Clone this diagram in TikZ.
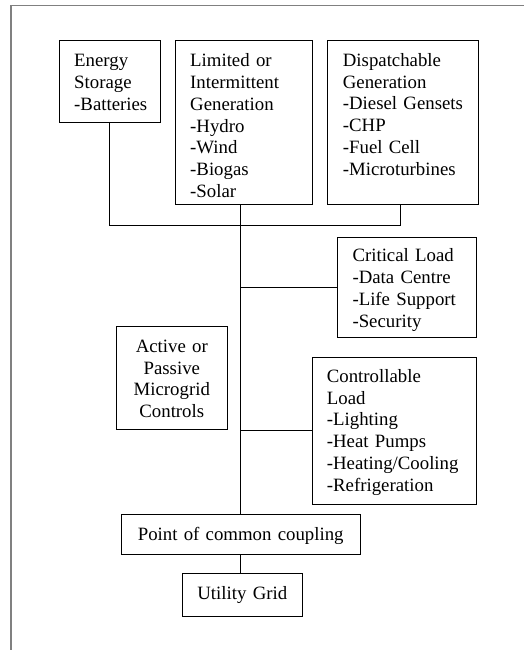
\documentclass[tikz,border=0pt]{standalone}
\usepackage{fontspec}
\setmainfont{Liberation Serif}
\usetikzlibrary{calc}
\begin{document}
\begin{tikzpicture}[x=1pt,y=-1pt,
  boxnode/.style={draw=black,line width=0.9pt,inner sep=0pt,outer sep=0pt,anchor=north west},
  ltxt/.style={inner sep=0pt,anchor=base west,text width=170pt,align=left,font=\fontsize{18.8}{21.8}\selectfont},
  ctxt/.style={inner sep=0pt,anchor=base,text width=#1,align=center,font=\fontsize{18.8}{21.8}\selectfont},
  wire/.style={draw=black,line width=0.9pt},
  frame/.style={draw=black!50,line width=1.6pt}]
\useasboundingbox (0,0) rectangle (523,650);
% frame of the figure
\draw[frame] (11,651) -- (11,5.7) -- (524,5.7);
% boxes
\node[boxnode,minimum width=101pt,minimum height=81.7pt] (es) at (59.3,40.3) {};
\node[boxnode,minimum width=137.4pt,minimum height=164.4pt] (lim) at (175.3,40.3) {};
\node[boxnode,minimum width=150.3pt,minimum height=164.4pt] (dg) at (327.7,40.3) {};
\node[boxnode,minimum width=138.7pt,minimum height=100.3pt] (cl) at (337.3,237) {};
\node[boxnode,minimum width=111.7pt,minimum height=103pt] (ap) at (116,326.7) {};
\node[boxnode,minimum width=163.7pt,minimum height=147pt] (ctl) at (312.3,357.3) {};
\node[boxnode,minimum width=238.7pt,minimum height=40.3pt] (pcc) at (121.3,514) {};
\node[boxnode,minimum width=120pt,minimum height=42.3pt] (ug) at (182.3,573.7) {};
% texts
\node[ltxt] (es-t) at (74,66.7) {Energy\\Storage\\-Batteries};
\node[ltxt] (lim-t) at (190,66.7) {Limited or\\Intermittent\\Generation\\-Hydro\\-Wind\\-Biogas\\-Solar};
\node[ltxt] (dg-t) at (342.7,66.4) {Dispatchable\\Generation\\-Diesel Gensets\\-CHP\\-Fuel Cell\\-Microturbines};
\node[ltxt] (cl-t) at (352.3,261.7) {Critical Load\\-Data Centre\\-Life Support\\-Security};
\node[ctxt=110pt] (ap-t) at (171.8,352.3) {Active or\\Passive\\Microgrid\\Controls};
\node[ltxt] (ctl-t) at (326.7,382.3) {Controllable\\Load\\-Lighting\\-Heat Pumps\\-Heating/Cooling\\-Refrigeration};
\node[ctxt=236pt] (pcc-t) at (240.7,540) {Point of common coupling};
\node[ctxt=118pt] (ug-t) at (242.3,599.3) {Utility Grid};
% connectors
\coordinate (bus) at (241,225.3);
\coordinate (dgdrop) at ($(dg.south)+(-2.8,0)$);
\draw[wire] (es.south) -- (es.south |- bus) -- (dgdrop |- bus) -- (dgdrop);
\draw[wire] (lim.south -| pcc.north) -- (pcc.north);
\draw[wire] (cl.west) -- (cl.west -| pcc.north);
\draw[wire] (ctl.west) -- (ctl.west -| pcc.north);
\draw[wire] (pcc.south) -- (pcc.south |- ug.north);
\end{tikzpicture}
\end{document}
